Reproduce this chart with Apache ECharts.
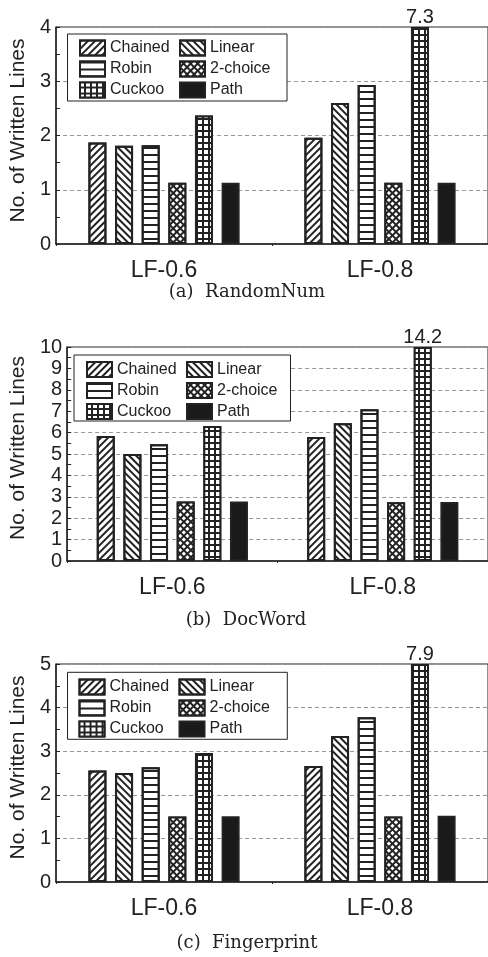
<!DOCTYPE html>
<html>
<head>
<meta charset="utf-8">
<script src="https://cdn.jsdelivr.net/npm/echarts@6/dist/echarts.min.js"></script>
<style>
  html, body { margin: 0; padding: 0; background: #fff; }
  #chart { width: 488px; height: 957px; }
</style>
</head>
<body>
<div id="chart"></div>
<script>
// ---------- data ----------
const categories = ['LF-0.6', 'LF-0.8'];
const seriesNames = ['Chained', 'Linear', 'Robin', '2-choice', 'Cuckoo', 'Path'];

// values per series: [LF-0.6, LF-0.8]
const randomNumValues = [[1.87, 1.96], [1.81, 2.60], [1.82, 2.93], [1.13, 1.13], [2.37, 7.3], [1.13, 1.13]];
const docWordValues = [[5.84, 5.80], [5.00, 6.44], [5.45, 7.09], [2.78, 2.74], [6.31, 14.2], [2.78, 2.76]];
const fingerprintValues = [[2.56, 2.66], [2.50, 3.35], [2.63, 3.78], [1.50, 1.50], [2.96, 7.9], [1.51, 1.52]];

const randomNumYMax = 4;
const docWordYMax = 10;
const fingerprintYMax = 5;

const captions = ['(a)  RandomNum', '(b)  DocWord', '(c)  Fingerprint'];
const yAxisTitle = 'No. of Written Lines';

// ---------- styling ----------
const FONT = '"Liberation Sans", Arial, Helvetica, sans-serif';
const INK = '#222';

const decals = {
  'Chained': { symbol: 'rect', color: INK, dashArrayX: [1, 0], dashArrayY: [1.1, 2.7], rotation: -Math.PI / 4 },
  'Linear': { symbol: 'rect', color: INK, dashArrayX: [1, 0], dashArrayY: [1.1, 2.7], rotation: Math.PI / 4 },
  'Robin': { symbol: 'rect', color: INK, dashArrayX: [1, 0], dashArrayY: [1.4, 4.4] },
  '2-choice': { symbol: 'rect', color: '#fff', backgroundColor: INK, dashArrayX: [2.9, 1.2], dashArrayY: [2.9, 1.2], rotation: Math.PI / 4 },
  'Cuckoo': { symbol: 'rect', color: '#fff', backgroundColor: INK, dashArrayX: [3.6, 1.4], dashArrayY: [3.6, 1.4] },
  'Path': null
};

const panels = [
  { values: randomNumValues, yMax: randomNumYMax, grid: { left: 54, top: 27, width: 437, height: 217 }, nameGap: 27, nameShift: 10,
    legendLeft: 78, legendTop: 39.5, box: [67.5, 34, 219.5, 67], caption: [247, 292] },
  { values: docWordValues, yMax: docWordYMax, grid: { left: 61, top: 347, width: 429, height: 214 }, nameGap: 34, nameShift: 12,
    legendLeft: 85, legendTop: 361, box: [74, 355, 216.5, 66], caption: [246, 620] },
  { values: fingerprintValues, yMax: fingerprintYMax, grid: { left: 53.5, top: 664, width: 437, height: 218 }, nameGap: 27, nameShift: 11,
    legendLeft: 77.5, legendTop: 678.5, box: [67.5, 672.3, 219.8, 67], caption: [247, 943] }
];

const grids = [], xAxes = [], yAxes = [], series = [], legends = [], graphics = [];

panels.forEach((p, i) => {
  grids.push(Object.assign({ show: true, borderColor: INK, borderWidth: 1, backgroundColor: 'transparent' }, p.grid));
  xAxes.push({
    type: 'category', gridIndex: i, data: categories,
    axisLine: { lineStyle: { color: INK, width: 1.5 } },
    axisTick: { show: true, length: 2, lineStyle: { color: INK } },
    axisLabel: { fontSize: 23, color: INK, fontFamily: FONT, margin: 15 }
  });
  yAxes.push({
    type: 'value', gridIndex: i, min: 0, max: p.yMax, interval: 1,
    name: yAxisTitle, nameLocation: 'middle', nameGap: p.nameGap,
    nameTextStyle: { fontSize: 21, color: INK, fontFamily: FONT, padding: [0, 0, 0, p.nameShift] },
    axisLine: { show: true, lineStyle: { color: INK, width: 1.5 } },
    axisTick: { show: true, inside: true, length: 4, lineStyle: { color: INK } },
    minorTick: { show: true, splitNumber: 2, length: 4, lineStyle: { color: INK } },
    axisLabel: { fontSize: 20, color: INK, fontFamily: FONT, margin: 5 },
    splitLine: { show: true, lineStyle: { color: '#999', type: [4, 3], width: 1 } }
  });
  seriesNames.forEach((name, j) => {
    const dec = decals[name];
    series.push({
      type: 'bar', name: name, xAxisIndex: i, yAxisIndex: i,
      barWidth: 18, barGap: '48%',
      itemStyle: Object.assign({
        color: name === 'Path' ? '#1a1a1a' : '#fff',
        borderColor: INK, borderWidth: 2
      }, dec ? { decal: dec } : {}),
      label: {
        show: false, position: 'top', distance: 0, fontSize: 20, color: INK, fontFamily: FONT,
        formatter: prm => String(prm.data.realValue)
      },
      emphasis: { disabled: true },
      data: p.values[j].map(v => ({
        value: Math.min(v, p.yMax), realValue: v,
        label: { show: v > p.yMax }
      }))
    });
  });
  const legendBase = {
    orient: 'vertical', top: p.legendTop, padding: 0,
    itemWidth: 25, itemHeight: 15, itemGap: 4, icon: 'rect', selectedMode: false,
    itemStyle: { borderColor: INK, borderWidth: 2 },
    textStyle: { fontSize: 16, lineHeight: 15, color: INK, fontFamily: FONT },
    z: 10
  };
  legends.push(Object.assign({}, legendBase, { left: p.legendLeft + 1, data: ['Chained', 'Robin', 'Cuckoo'] }));
  legends.push(Object.assign({}, legendBase, { left: p.legendLeft + 101, data: ['Linear', '2-choice', 'Path'] }));
  graphics.push({
    type: 'rect', z: 5,
    shape: { x: p.box[0], y: p.box[1], width: p.box[2], height: p.box[3] },
    style: { fill: '#fff', stroke: INK, lineWidth: 1 }
  });
  graphics.push({
    type: 'text', z: 5, x: p.caption[0], y: p.caption[1],
    style: { text: captions[i], font: '18px "DejaVu Serif", serif', fill: INK, textAlign: 'center', textVerticalAlign: 'middle' }
  });
});

const chart = echarts.init(document.getElementById('chart'), null, { renderer: 'canvas' });
chart.setOption({
  animation: false,
  backgroundColor: '#fff',
  grid: grids,
  xAxis: xAxes,
  yAxis: yAxes,
  legend: legends,
  graphic: { elements: graphics },
  series: series
});
</script>
</body>
</html>
